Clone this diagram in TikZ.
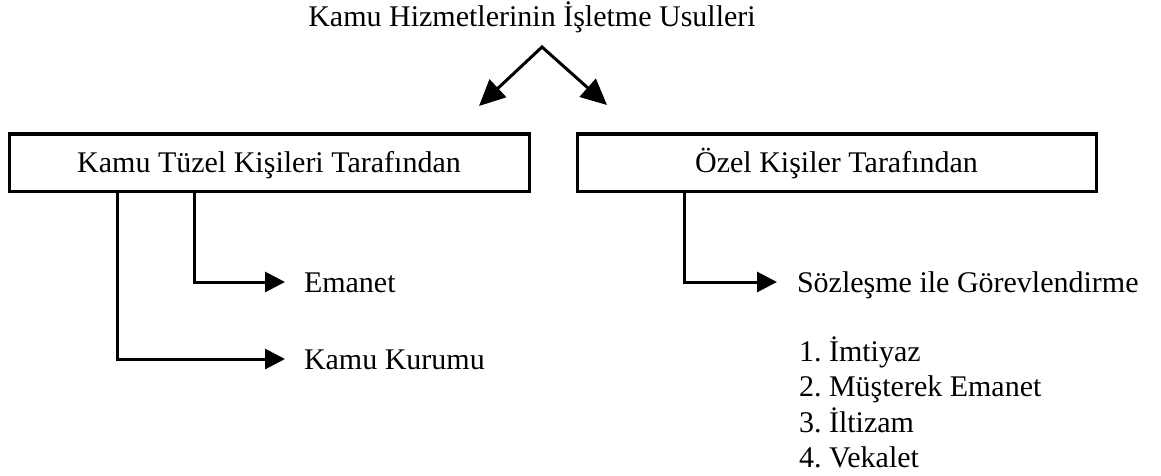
\documentclass[tikz,border=0pt]{standalone}
\usepackage{fontspec}
\setmainfont{Liberation Serif}
\usetikzlibrary{arrows.meta}
\tikzset{
  txt/.style={font=\fontsize{30}{35}\selectfont\frenchspacing, inner sep=0pt, outer sep=0pt},
  lbl/.style={txt, anchor=west, text height=20pt, text depth=0pt},
  listitem/.style={txt, anchor=base west},
  headbox/.style={txt, draw, line width=3pt, rectangle, minimum height=57pt,
    text height=20pt, text depth=0pt},
  conn/.style={line width=3pt, line join=miter, -{Triangle[length=20pt,width=20pt]}},
  topconn/.style={line width=3pt, line join=miter,
    {Triangle[length=26pt,width=24pt]}-{Triangle[length=26pt,width=24pt]}}
}
\begin{document}
\begin{tikzpicture}[x=1pt,y=-1pt]
\useasboundingbox (0,0) rectangle (1161,476);

\node[txt, anchor=base] (title) at (532,27) {Kamu Hizmetlerinin İşletme Usulleri};

\coordinate (apex) at (542,47);
\coordinate (tipl) at (479,106);
\coordinate (tipr) at (607,105);
\draw[topconn] (tipl) -- (apex) -- (tipr);

\node[headbox, minimum width=520pt] (b1) at (269,162.5) {Kamu Tüzel Kişileri Tarafından};
\node[headbox, minimum width=519pt] (b2) at (836.5,162.5) {Özel Kişiler Tarafından};

\node[lbl] (em) at (304,282) {Emanet};
\node[lbl] (kk) at (304,359) {Kamu Kurumu};
\node[lbl] (sg) at (797,282) {Sözleşme ile Görevlendirme};

\coordinate (v1) at (117,0);
\coordinate (v2) at (194,0);
\coordinate (v3) at (684,0);

\draw[conn] (b1.south -| v2) |- ([xshift=-19pt]em.west);
\draw[conn] (b1.south -| v1) |- ([xshift=-19pt]kk.west);
\draw[conn] (b2.south -| v3) |- ([xshift=-20pt]sg.west);

\node[listitem] (l1) at (799,361) {1. İmtiyaz};
\node[listitem] (l2) at (799,396.5) {2. Müşterek Emanet};
\node[listitem] (l3) at (799,432) {3. İltizam};
\node[listitem] (l4) at (799,467) {4. Vekalet};
\end{tikzpicture}
\end{document}
